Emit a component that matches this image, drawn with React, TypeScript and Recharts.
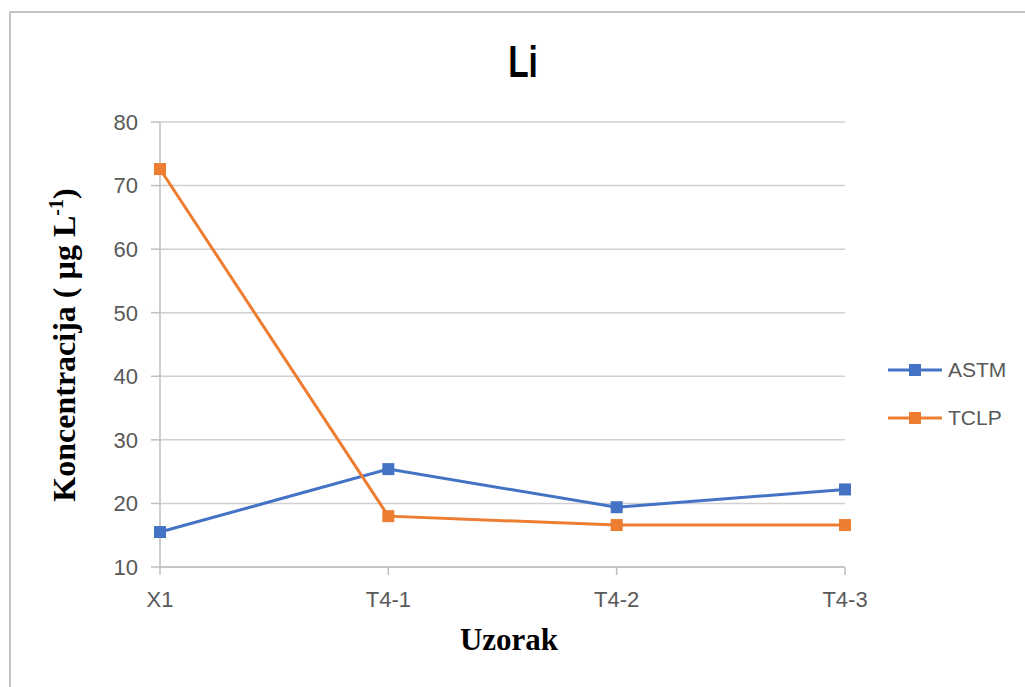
import React from 'react';
import { LineChart, Line, XAxis, YAxis, CartesianGrid, Legend } from 'recharts';

// Samples and measured concentrations (µg L-1)
const samples = ['X1', 'T4-1', 'T4-2', 'T4-3'];
const astm = [15.5, 25.4, 19.4, 22.2];
const tclp = [72.6, 18.0, 16.6, 16.6];
const yTicks = [10, 20, 30, 40, 50, 60, 70, 80];

const data = samples.map((s, i) => ({ sample: s, ASTM: astm[i], TCLP: tclp[i] }));

const BLUE = '#4472C4';
const ORANGE = '#ED7D31';
const TEXT = '#595959';
const AXIS = '#bfbfbf';
const SANS = '"Liberation Sans", Arial, sans-serif';
const SERIF = '"Liberation Serif", "Times New Roman", serif';

const squareDot = (color: string) => (props: any) => {
  const { cx, cy, index } = props;
  if (cx == null || cy == null) return <g key={index} />;
  return <rect key={index} x={cx - 6} y={cy - 6} width={12} height={12} fill={color} />;
};

const YLabel = () => (
  <text
    transform="translate(75,345) rotate(-90)"
    textAnchor="middle"
    fontFamily={SERIF}
    fontWeight="bold"
    fontSize={32}
    fill="#000"
  >
    Koncentracija ( µg L
    <tspan fontSize={20} dy={-12}>-1</tspan>
    <tspan dy={12}>)</tspan>
  </text>
);

const XLabel = () => (
  <text x={509} y={650} textAnchor="middle" fontFamily={SERIF} fontWeight="bold" fontSize={31} fill="#000">
    Uzorak
  </text>
);

const LegendContent = (props: any) => {
  const { payload } = props;
  return (
    <div>
      {(payload || []).map((p: any, i: number) => (
        <div key={i} style={{ display: 'flex', alignItems: 'center', height: 48 }}>
          <svg width={56} height={14} style={{ marginRight: 4 }}>
            <line x1={0} y1={7} x2={54} y2={7} stroke={p.color} strokeWidth={3} />
            <rect x={21} y={1} width={12} height={12} fill={p.color} />
          </svg>
          <span style={{ fontFamily: SANS, fontSize: 21, color: TEXT }}>{p.value}</span>
        </div>
      ))}
    </div>
  );
};

export default function App() {
  return (
    <div style={{ position: 'absolute', left: 0, top: 0, width: 1025, height: 687, overflow: 'hidden', background: '#fff' }}>
      <div
        style={{
          position: 'absolute',
          left: 9,
          top: 11,
          width: 1100,
          height: 800,
          border: '2px solid #c4c4c4',
          boxSizing: 'border-box',
        }}
      />
      <div
        style={{
          position: 'absolute',
          left: 0,
          width: 1046,
          top: 40,
          textAlign: 'center',
          fontFamily: SANS,
          fontWeight: 'bold',
          fontSize: 44,
          lineHeight: '44px',
          color: '#000',
          transform: 'scaleX(0.76)',
        }}
      >
        Li
      </div>
      <div style={{ position: 'absolute', left: 0, top: 0 }}>
        <LineChart width={1025} height={687} data={data} margin={{ top: 122, right: 180, bottom: 60, left: 100 }}>
          <CartesianGrid horizontal vertical={false} stroke="#d0d0d0" strokeWidth={1.5} />
          <XAxis
            dataKey="sample"
            height={60}
            stroke={AXIS}
            strokeWidth={1.5}
            tickSize={8}
            tickMargin={16}
            tick={{ fill: TEXT, fontSize: 22, fontFamily: SANS }}
            label={<XLabel />}
          />
          <YAxis
            width={60}
            domain={[10, 80]}
            ticks={yTicks}
            interval={0}
            stroke={AXIS}
            strokeWidth={1.5}
            tickSize={9}
            tickMargin={13}
            tick={{ fill: TEXT, fontSize: 22, fontFamily: SANS }}
            label={<YLabel />}
          />
          <Legend
            layout="vertical"
            align="center"
            verticalAlign="middle"
            content={<LegendContent />}
            wrapperStyle={{ left: 888, top: 346, width: 130 }}
          />
          <Line
            dataKey="ASTM"
            stroke={BLUE}
            strokeWidth={3}
            dot={squareDot(BLUE)}
            activeDot={false}
            isAnimationActive={false}
          />
          <Line
            dataKey="TCLP"
            stroke={ORANGE}
            strokeWidth={3}
            dot={squareDot(ORANGE)}
            activeDot={false}
            isAnimationActive={false}
          />
        </LineChart>
      </div>
    </div>
  );
}
